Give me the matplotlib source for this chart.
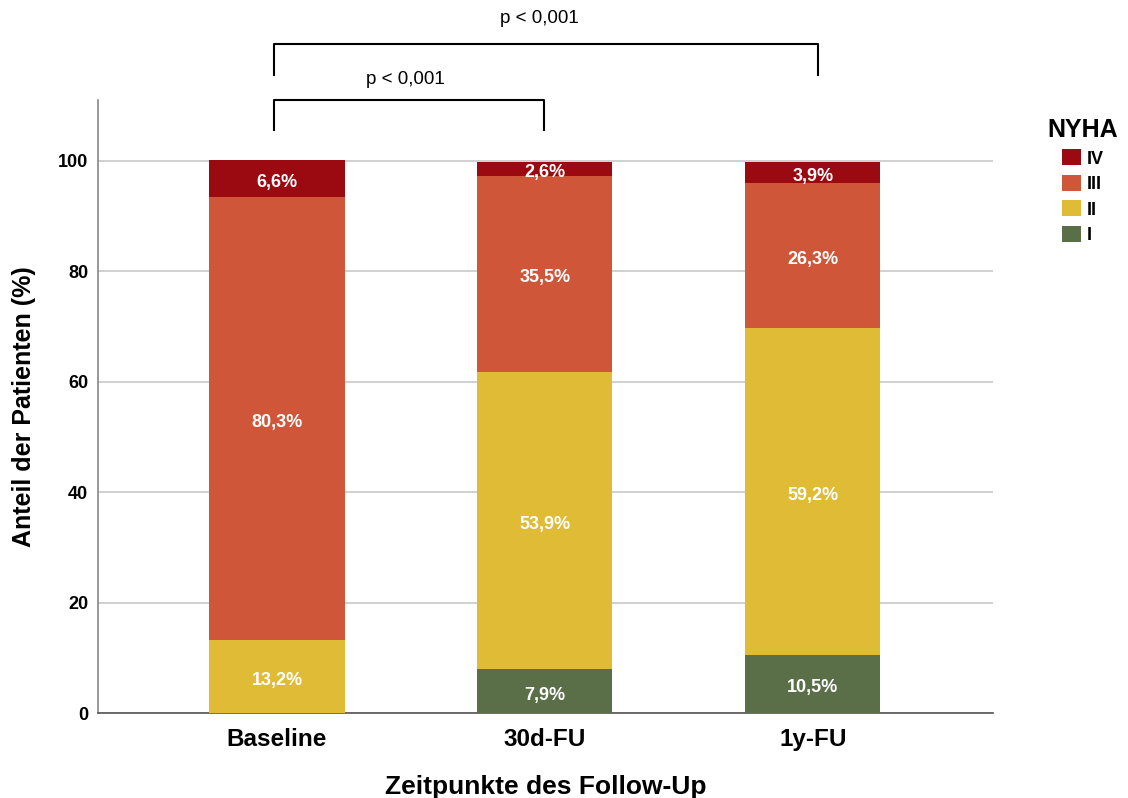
import matplotlib
matplotlib.use("Agg")
import matplotlib.pyplot as plt
import numpy as np

plt.rcParams['font.family'] = ['Liberation Sans', 'DejaVu Sans']

timepoints = ["Baseline", "30d-FU", "1y-FU"]
classes = ["I", "II", "III", "IV"]
nyha_i = [0.0, 7.9, 10.5]
nyha_ii = [13.2, 53.9, 59.2]
nyha_iii = [80.3, 35.5, 26.3]
nyha_iv = [6.6, 2.6, 3.9]
colors = ["#5a6e47", "#e0bb36", "#d0563a", "#9b0a10"]

fig = plt.figure(figsize=(11.28, 7.98), dpi=100)
ax = fig.add_axes([0.0869, 0.1065, 0.7934, 0.7682])

x = np.arange(len(timepoints))
bottom = np.zeros(len(timepoints))
handles = []
for vals, col, name in zip([nyha_i, nyha_ii, nyha_iii, nyha_iv], colors, classes):
    vals = np.array(vals)
    b = ax.bar(x, vals, 0.504, bottom=bottom, color=col, label=name, zorder=3,
               edgecolor="none")
    handles.append(b)
    for xi, v, bt in zip(x, vals, bottom):
        if v > 0:
            ax.text(xi, bt + v / 2 - 0.7, f"{v:.1f}%".replace(".", ","), ha="center",
                    va="center", color="white", fontsize=13, fontweight="bold",
                    zorder=4)
    bottom += vals

ax.set_xlim(-0.668, 2.672)
ax.set_ylim(0, 111.05)
ax.set_yticks([0, 20, 40, 60, 80, 100])
ax.yaxis.grid(True, color="#c8c8c8", linewidth=1.2, zorder=0)
ax.set_axisbelow(True)
ax.set_xticks(x)
ax.set_xticklabels(timepoints, fontsize=17.5, fontweight="bold")
for lab in ax.get_yticklabels():
    lab.set_fontweight("bold")
    lab.set_fontsize(13)
ax.tick_params(axis="both", length=0)
ax.tick_params(axis="x", pad=11)
ax.tick_params(axis="y", pad=7)
for s in ["top", "right"]:
    ax.spines[s].set_visible(False)
ax.spines["left"].set_color("#888888")
ax.spines["bottom"].set_color("#555555")
ax.spines["left"].set_linewidth(1.2)
ax.spines["bottom"].set_linewidth(1.2)

ax.set_ylabel("Anteil der Patienten (%)", fontsize=18, fontweight="bold", labelpad=16)
ax.set_xlabel("Zeitpunkte des Follow-Up", fontsize=19, fontweight="bold", labelpad=17)

# significance brackets
def bracket(x0, x1, ytop, ybot, txt, ytxt, xtxt):
    ax.plot([x0, x0, x1, x1], [ybot, ytop, ytop, ybot], color="black", lw=1.5,
            clip_on=False, solid_joinstyle="round")
    ax.text(xtxt, ytxt, txt, ha="center", va="center", fontsize=13.5, clip_on=False)

bracket(-0.011, 2.02, 121.2, 115.6, "p < 0,001", 125.9, 0.98)
bracket(-0.011, 0.996, 111.05, 105.6, "p < 0,001", 114.7, 0.48)

leg = ax.legend(handles[::-1], classes[::-1], title="NYHA", loc="upper left",
                bbox_to_anchor=(1.043, 0.997), frameon=False, handlelength=1.05,
                handleheight=1.0, handletextpad=0.3, labelspacing=0.4,
                prop={"weight": "bold", "size": 13})
leg.get_title().set_fontweight("bold")
leg.get_title().set_fontsize(18)

fig.savefig("out.png", dpi=100)
